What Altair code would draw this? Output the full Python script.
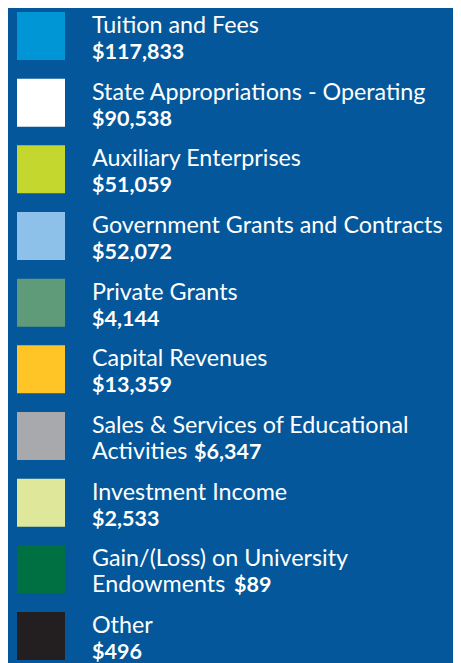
import altair as alt
import pandas as pd

labels = ["Tuition and Fees", "State Appropriations - Operating", "Auxiliary Enterprises",
          "Government Grants and Contracts", "Private Grants", "Capital Revenues",
          "Sales & Services of Educational", "Investment Income",
          "Gain/(Loss) on University", "Other"]
line2_prefix = ["", "", "", "", "", "", "Activities", "", "Endowments", ""]
values = [117833, 90538, 51059, 52072, 4144, 13359, 6347, 2533, 89, 496]
colors = ["#0095d5", "#ffffff", "#c4d72f", "#8ec1ea", "#5f9b79", "#ffc425",
          "#a7a9ac", "#dfe79a", "#006f41", "#231f20"]

df = pd.DataFrame({
    "idx": list(range(len(labels))),
    "label": labels,
    "prefix": line2_prefix,
    "value": values,
})

FONT = "Lato"
FS = 23.3
FSV = 21.5
BG = "#03579a"

yenc = alt.Y("idx:Q", scale=alt.Scale(domain=[0, 9], range=[28, 628]), axis=None)
base = alt.Chart(df).encode(y=yenc)

squares = base.mark_square(size=48 * 48, opacity=1, strokeWidth=0).encode(
    x=alt.value(33),
    color=alt.Color("label:N", scale=alt.Scale(domain=labels, range=colors), legend=None),
)

line1 = base.mark_text(align="left", baseline="alphabetic", dy=-3, font=FONT,
                       fontSize=FS, color="white").encode(
    x=alt.value(84), text="label:N")

prefix = base.mark_text(align="left", baseline="alphabetic", dy=23, font=FONT,
                        fontSize=FS, color="white").encode(
    x=alt.value(84), text="prefix:N")

val_plain = base.mark_text(align="left", baseline="alphabetic", dy=23, font=FONT,
                           fontSize=FSV, fontWeight="bold", color="white").encode(
    x=alt.value(84), text=alt.Text("value:Q", format="$,.0f")
).transform_filter("datum.prefix == ''")

val_act = base.mark_text(align="left", baseline="alphabetic", dy=23, dx=102, font=FONT,
                         fontSize=FSV, fontWeight="bold", color="white").encode(
    x=alt.value(84), text=alt.Text("value:Q", format="$,.0f")
).transform_filter("datum.prefix == 'Activities'")

val_end = base.mark_text(align="left", baseline="alphabetic", dy=23, dx=142, font=FONT,
                         fontSize=FSV, fontWeight="bold", color="white").encode(
    x=alt.value(84), text=alt.Text("value:Q", format="$,.0f")
).transform_filter("datum.prefix == 'Endowments'")

chart = alt.layer(squares, line1, prefix, val_plain, val_act, val_end).properties(
    width=445, height=655, background=BG, padding=0, autosize="none"
).configure_view(stroke=None)

chart.save("out.html", embed_options={"renderer": "svg", "actions": False})
